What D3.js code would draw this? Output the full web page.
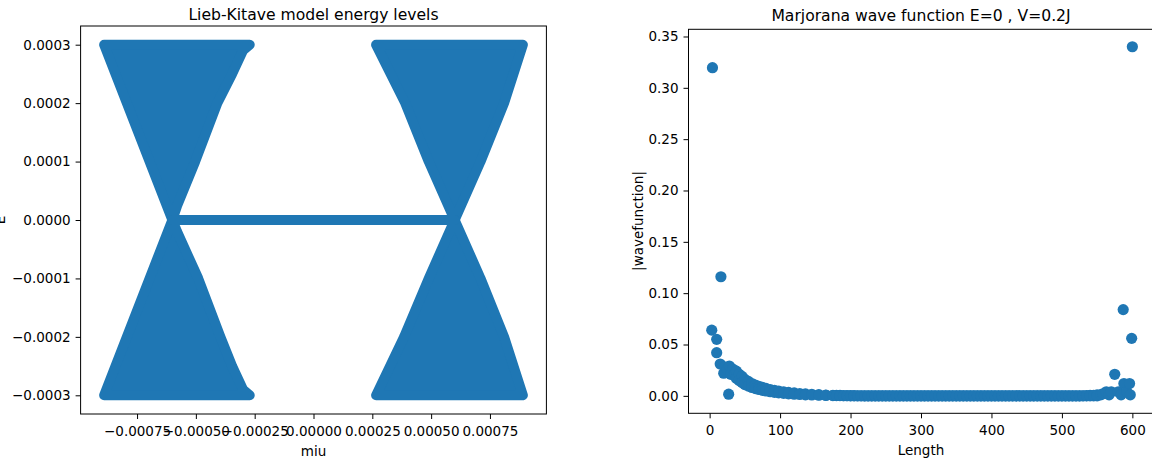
<!DOCTYPE html>
<html>
<head>
<meta charset="utf-8">
<script src="https://cdn.jsdelivr.net/npm/d3@7"></script>
<style>
  body { margin: 0; background: #fff; }
  text { font-family: "DejaVu Sans", sans-serif; fill: #000; }
</style>
</head>
<body>
<svg id="chart" width="1152" height="462"></svg>
<script>
// left panel: energy levels vs miu (outlines of the dense scatter)
var miuTicks = [-0.00075, -0.0005, -0.00025, 0, 0.00025, 0.0005, 0.00075];
var energyTicks = [-0.0003, -0.0002, -0.0001, 0, 0.0001, 0.0002, 0.0003];

var lobeUpperLeft = [[-0.00089, 0.0003], [-0.0006, 0], [-0.00058, 0.000024], [-0.000503, 0.0001],
  [-0.000409, 0.0002], [-0.000346, 0.00025], [-0.0003, 0.00029], [-0.000271, 0.0003]];
var lobeLowerLeft = [[-0.00089, -0.0003], [-0.0006, 0], [-0.00058, -0.00002], [-0.00049, -0.0001],
  [-0.000396, -0.0002], [-0.000346, -0.00025], [-0.0003, -0.00029], [-0.000271, -0.0003]];
var lobeUpperRight = [[0.000266, 0.0003], [0.00039, 0.0002], [0.00049, 0.0001], [0.0006, 0],
  [0.00071, 0.0001], [0.00081, 0.0002], [0.00089, 0.0003]];
var lobeLowerRight = [[0.000266, -0.0003], [0.000385, -0.0002], [0.00049, -0.0001], [0.0006, 0],
  [0.00071, -0.0001], [0.00081, -0.0002], [0.00089, -0.0003]];
var zeroModes = [[-0.0006, 0], [0.0006, 0]];

// right panel: |wavefunction| vs site
var lengthTicks = [0, 100, 200, 300, 400, 500, 600];
var waveTicks = [0, 0.05, 0.1, 0.15, 0.2, 0.25, 0.3, 0.35];

var edgeLeftL   = [3, 4, 10, 10, 16, 15, 20, 22, 25, 27, 28, 30, 33, 36];
var edgeLeftPsi = [0.064, 0.3196, 0.055, 0.042, 0.116, 0.031, 0.022, 0.028, 0.026, 0.0016, 0.029, 0.021, 0.026, 0.022];

var bulkL = [38, 42, 46, 50, 55, 60, 65, 70, 75, 80, 86, 92, 98, 105, 112, 120, 128, 136, 145, 155, 165, 175,
  180, 185, 190, 195, 200, 205, 210, 215, 220, 225, 230, 235, 240, 245, 250, 255, 260, 265, 270, 275,
  280, 285, 290, 295, 300, 305, 310, 315, 320, 325, 330, 335, 340, 345, 350, 355, 360, 365, 370, 375,
  380, 385, 390, 395, 400, 405, 410, 415, 420, 425, 430, 435, 440, 445, 450, 455, 460, 465, 470, 475,
  480, 485, 490, 495, 500, 505, 510, 515, 520, 525, 530, 535, 540, 545, 550];
var bulkPsiHi = [0.024, 0.021, 0.019, 0.016, 0.014, 0.012, 0.0105, 0.0093, 0.0082, 0.0072, 0.0062, 0.0054, 0.0047,
  0.004, 0.0034, 0.0028, 0.0023, 0.0019, 0.0015, 0.0011, 0.0008, 0.0006,
  0.0005, 0.0004, 0.0003, 0.0003, 0.0002, 0.0002, 0.0001, 0.0001, 0, 0, 0, 0, 0, 0, 0, 0, 0, 0, 0, 0,
  0, 0, 0, 0, 0, 0, 0, 0, 0, 0, 0, 0, 0, 0, 0, 0, 0, 0, 0, 0,
  0, 0, 0, 0, 0, 0, 0, 0, 0, 0, 0, 0, 0, 0, 0, 0, 0, 0, 0, 0,
  0, 0, 0, 0, 0, 0, 0, 0, 0, 0, 0.0001, 0.0002, 0.0004, 0.0006, 0.001];
var bulkPsiLo = [0.017, 0.015, 0.013, 0.011, 0.0095, 0.0082, 0.0071, 0.0062, 0.0054, 0.0047, 0.004, 0.0034, 0.0029,
  0.0024, 0.002, 0.0016, 0.0013, 0.001, 0.0008, 0.0006, 0.0004, 0.0003,
  0.0002, 0.0002, 0.0001, 0.0001, 0, 0, 0, 0, 0, 0, 0, 0, 0, 0, 0, 0, 0, 0, 0, 0,
  0, 0, 0, 0, 0, 0, 0, 0, 0, 0, 0, 0, 0, 0, 0, 0, 0, 0, 0, 0,
  0, 0, 0, 0, 0, 0, 0, 0, 0, 0, 0, 0, 0, 0, 0, 0, 0, 0, 0, 0,
  0, 0, 0, 0, 0, 0, 0, 0, 0, 0, 0, 0, 0, 0, 0];

var edgeRightL   = [555, 558, 563, 567, 570, 575, 580, 584, 587, 588, 592, 596, 597, 599, 600];
var edgeRightPsi = [0.001, 0.002, 0.004, 0.001, 0.004, 0.021, 0.004, 0.001, 0.084, 0.012, 0.004, 0.012, 0.001, 0.056, 0.340];

var blue = "#1f77b4";
var svg = d3.select("#chart");
svg.append("rect").attr("width", 1152).attr("height", 462).attr("fill", "#fff");

function styleAxis(g) {
  g.select(".domain").remove();
  g.attr("font-size", 13.5).attr("font-family", "DejaVu Sans");
  g.selectAll("line").attr("stroke", "#000");
  g.selectAll("text").attr("fill", "#000");
}

// ---------- left panel ----------
var x1 = d3.scaleLinear().domain([-0.00099, 0.00099]).range([80.6, 546.4]);
var y1 = d3.scaleLinear().domain([-0.000332, 0.000332]).range([414, 26]);
var line1 = d3.line().x(function(d) { return x1(d[0]); }).y(function(d) { return y1(d[1]); });

var left = svg.append("g");
[lobeUpperLeft, lobeLowerLeft, lobeUpperRight, lobeLowerRight].forEach(function(pts) {
  left.append("path")
    .attr("d", line1(pts) + "Z")
    .attr("fill", blue)
    .attr("stroke", blue)
    .attr("stroke-width", 10)
    .attr("stroke-linejoin", "round");
});
left.append("path")
  .attr("d", line1(zeroModes))
  .attr("fill", "none")
  .attr("stroke", blue)
  .attr("stroke-width", 10)
  .attr("stroke-linecap", "round");

left.append("g")
  .attr("transform", "translate(0,414)")
  .call(d3.axisBottom(x1).tickValues(miuTicks).tickFormat(d3.format(".5f")).tickSizeOuter(0).tickSize(5).tickPadding(7))
  .call(styleAxis);
left.append("g")
  .attr("transform", "translate(80.6,0)")
  .call(d3.axisLeft(y1).tickValues(energyTicks).tickFormat(d3.format(".4f")).tickSizeOuter(0).tickSize(5).tickPadding(5))
  .call(styleAxis);
left.append("rect")
  .attr("x", 80.6).attr("y", 26).attr("width", 546.4 - 80.6).attr("height", 414 - 26)
  .attr("fill", "none").attr("stroke", "#000").attr("stroke-width", 1);

left.append("text").attr("x", 313.5).attr("y", 19.5).attr("text-anchor", "middle")
  .attr("font-size", 15.6).text("Lieb-Kitave model energy levels");
left.append("text").attr("x", 313.5).attr("y", 456).attr("text-anchor", "middle")
  .attr("font-size", 13.5).text("miu");
left.append("text").attr("transform", "translate(5,220) rotate(-90)").attr("text-anchor", "middle")
  .attr("font-size", 13.5).text("E");

// ---------- right panel ----------
var x2 = d3.scaleLinear().domain([-30, 630]).range([688.5, 1153.5]);
var y2 = d3.scaleLinear().domain([-0.017, 0.357]).range([413.3, 29.3]);

var right = svg.append("g");
var pts = [];
edgeLeftL.forEach(function(l, i) { pts.push([l, edgeLeftPsi[i]]); });
bulkL.forEach(function(l, i) { pts.push([l, bulkPsiHi[i]]); pts.push([l, bulkPsiLo[i]]); });
edgeRightL.forEach(function(l, i) { pts.push([l, edgeRightPsi[i]]); });

right.selectAll("circle.pt")
  .data(pts)
  .enter()
  .append("circle")
    .attr("class", "pt")
    .attr("cx", function(d) { return x2(d[0]); })
    .attr("cy", function(d) { return y2(d[1]); })
    .attr("r", 5.6)
    .attr("fill", blue);

right.append("g")
  .attr("transform", "translate(0,413.3)")
  .call(d3.axisBottom(x2).tickValues(lengthTicks).tickFormat(d3.format("d")).tickSizeOuter(0).tickSize(5).tickPadding(7))
  .call(styleAxis);
right.append("g")
  .attr("transform", "translate(688.5,0)")
  .call(d3.axisLeft(y2).tickValues(waveTicks).tickFormat(d3.format(".2f")).tickSizeOuter(0).tickSize(5).tickPadding(5))
  .call(styleAxis);
right.append("rect")
  .attr("x", 688.5).attr("y", 29.3).attr("width", 1153.5 - 688.5).attr("height", 413.3 - 29.3)
  .attr("fill", "none").attr("stroke", "#000").attr("stroke-width", 1);

right.append("text").attr("x", 921).attr("y", 21).attr("text-anchor", "middle")
  .attr("font-size", 15.6).text("Marjorana wave function E=0 , V=0.2J");
right.append("text").attr("x", 921).attr("y", 455).attr("text-anchor", "middle")
  .attr("font-size", 13.5).text("Length");
right.append("text").attr("transform", "translate(643,221) rotate(-90)").attr("text-anchor", "middle")
  .attr("font-size", 13.5).text("|wavefunction|");
</script>
</body>
</html>
